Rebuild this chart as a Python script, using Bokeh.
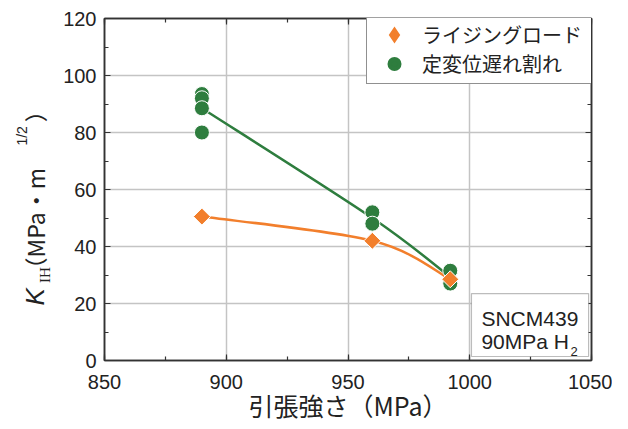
import numpy as np
from bokeh.plotting import figure
from bokeh.layouts import row
from bokeh.models import (Range1d, SingleIntervalTicker, LinearAxis, Label, Legend,
                          LegendItem, BoxAnnotation, CustomLabelingPolicy)
from bokeh.core.properties import value
from bokeh.embed import file_html
from bokeh.resources import INLINE

# ---- data ----
rising_x = [890, 960, 992]
rising_y = [50.5, 42.0, 28.5]
const_x = [890, 890, 890, 890, 960, 960, 992, 992]
const_y = [93.5, 92.0, 88.5, 80.0, 52.0, 48.0, 31.5, 27.0]
legend_labels = ["ライジングロード", "定変位遅れ割れ"]
x_label = "引張強さ（MPa）"
y_label_parts = ["K", "IH", "（MPa・m", "1/2", "）"]
note_lines = ["SNCM439", "90MPa H", "2"]

ORANGE = "#F27F2C"
GREEN = "#2E7D3E"
TXT = "#222222"
TICK_FONT = "Liberation Sans"
JP_FONT = "Noto Sans CJK JP"

H = 426
TOP, BOT = 18, 66

p = figure(width=552, height=H, output_backend="svg", toolbar_location=None,
           x_range=Range1d(850, 1050), y_range=Range1d(0, 120),
           min_border_left=41, min_border_right=20, min_border_top=TOP, min_border_bottom=BOT)
p.background_fill_color = "white"
p.border_fill_color = "white"
p.outline_line_color = "#222222"
p.outline_line_width = 1.5

xt = SingleIntervalTicker(interval=50, num_minor_ticks=2)
yt = SingleIntervalTicker(interval=20, num_minor_ticks=2)

def style_axis(ax, show_labels=True):
    ax.major_tick_in = 6
    ax.major_tick_out = 0
    ax.minor_tick_in = 4
    ax.minor_tick_out = 0
    ax.major_tick_line_color = "#333333"
    ax.minor_tick_line_color = "#333333"
    ax.major_tick_line_width = 1.2
    ax.minor_tick_line_width = 1.2
    ax.axis_line_color = "#333333"
    ax.axis_line_width = 1.5
    if show_labels:
        ax.major_label_text_font = TICK_FONT
        ax.major_label_text_font_size = "20px"
        ax.major_label_text_color = TXT
    else:
        ax.major_label_policy = CustomLabelingPolicy(code="return []")
        ax.major_label_standoff = 0

p.xaxis.ticker = xt
p.yaxis.ticker = yt
style_axis(p.xaxis[0])
style_axis(p.yaxis[0])
p.xaxis.major_label_standoff = 14
p.yaxis.major_label_standoff = 8
p.xaxis.axis_label = x_label
p.xaxis.axis_label_text_font = JP_FONT
p.xaxis.axis_label_text_font_size = "25px"
p.xaxis.axis_label_text_font_style = "normal"
p.xaxis.axis_label_text_color = TXT
p.xaxis.axis_label_standoff = -5

top_ax = LinearAxis(ticker=SingleIntervalTicker(interval=50, num_minor_ticks=2))
right_ax = LinearAxis(ticker=SingleIntervalTicker(interval=20, num_minor_ticks=2))
style_axis(top_ax, False)
style_axis(right_ax, False)
p.add_layout(top_ax, "above")
p.add_layout(right_ax, "right")

p.xgrid.ticker = xt
p.ygrid.ticker = yt
p.grid.grid_line_color = "#c4c4c4"
p.grid.grid_line_width = 1.5

# ---- smoothed lines (Catmull-Rom style, drawn as Bezier segments) ----
def group_means(xs, ys):
    ux = sorted(set(xs))
    return ux, [float(np.mean([y for x, y in zip(xs, ys) if x == u])) for u in ux]

def smooth_segments(xs, ys):
    P = np.column_stack([xs, ys]).astype(float)
    n = len(P)
    T = np.zeros_like(P)
    for i in range(n):
        a = P[max(i - 1, 0)]
        b = P[min(i + 1, n - 1)]
        T[i] = (b - a) / 2.0
    x0, y0 = P[:-1, 0], P[:-1, 1]
    x1, y1 = P[1:, 0], P[1:, 1]
    c0 = P[:-1] + T[:-1] / 3.0
    c1 = P[1:] - T[1:] / 3.0
    return dict(x0=x0, y0=y0, x1=x1, y1=y1, cx0=c0[:, 0], cy0=c0[:, 1],
                cx1=c1[:, 0], cy1=c1[:, 1])

gmx, gmy = group_means(const_x, const_y)
p.bezier(line_color=GREEN, line_width=2.5, **smooth_segments(gmx, gmy))
p.bezier(line_color=ORANGE, line_width=2.5, **smooth_segments(rising_x, rising_y))

g_r = p.scatter(const_x, const_y, marker="circle", size=15, fill_color=GREEN,
                line_color="white", line_width=1)
o_r = p.scatter(rising_x, rising_y, marker="square", size=12, angle=np.pi / 4,
                fill_color=ORANGE, line_color="white", line_width=1)

# legend swatches (renderers with no visible point, used only for the legend glyph)
o_leg = p.scatter(x=[np.nan], y=[np.nan], marker="diamond", fill_color=ORANGE,
                  line_color=ORANGE, line_width=4, line_join="miter")
g_leg = p.scatter(x=[np.nan], y=[np.nan], marker="circle", fill_color=GREEN,
                  line_color=GREEN, line_width=4)

legend = Legend(items=[LegendItem(label=legend_labels[0], renderers=[o_leg]),
                       LegendItem(label=legend_labels[1], renderers=[g_leg])],
                location=(262, 276))
legend.label_text_font = JP_FONT
legend.label_text_font_size = "20px"
legend.label_text_color = TXT
legend.border_line_color = "#222222"
legend.border_line_width = 1.2
legend.background_fill_alpha = 1
legend.padding = 5
legend.spacing = 0
legend.label_height = 25
legend.glyph_height = 25
legend.glyph_width = 44
legend.label_standoff = 6
legend.label_width = 167
legend.margin = 0
p.add_layout(legend)

# ---- note box ----
p.add_layout(BoxAnnotation(left=1000.7, right=1048.8, bottom=1.4, top=23.5,
                           fill_color="white", fill_alpha=1,
                           line_color="#222222", line_width=1.2))
p.add_layout(Label(x=1004.8, y=14.7, text=note_lines[0], text_font=TICK_FONT,
                   text_font_size="21px", text_color=TXT, text_baseline="alphabetic"))
p.add_layout(Label(x=1004.8, y=6.7, text=note_lines[1], text_font=TICK_FONT,
                   text_font_size="21px", text_color=TXT, text_baseline="alphabetic"))
p.add_layout(Label(x=1041.4, y=3.2, text=note_lines[2], text_font=TICK_FONT,
                   text_font_size="13px", text_color=TXT, text_baseline="alphabetic"))

# ---- y-axis title in a narrow side figure (rotated text) ----
lf = figure(width=60, height=H, output_backend="svg", toolbar_location=None,
            x_range=Range1d(0, 60), y_range=Range1d(0, 120),
            x_axis_location=None, y_axis_location=None,
            min_border_left=0, min_border_right=0, min_border_top=TOP, min_border_bottom=BOT)
lf.grid.visible = False
lf.outline_line_color = None
lf.background_fill_color = "white"
lf.border_fill_color = "white"

def ylab(text, y, x, size, style, font):
    lf.text(x=[x], y=[y], text=[text], angle=np.pi / 2, text_align="left",
            text_baseline="middle", text_font=value(font), text_font_size=value(size),
            text_font_style=style, text_color=TXT)

ylab(y_label_parts[0], 19.3, 34, "26px", "italic", TICK_FONT)
ylab(y_label_parts[1], 27.2, 44, "15px", "normal", "Liberation Serif")
ylab(y_label_parts[2], 28.1, 34, "23px", "normal", JP_FONT)
ylab(y_label_parts[3], 75.4, 21, "14px", "normal", TICK_FONT)
ylab(y_label_parts[4], 83.6, 34, "23px", "normal", JP_FONT)

layout = row(lf, p)
open("out.html", "w").write(file_html(layout, INLINE))
